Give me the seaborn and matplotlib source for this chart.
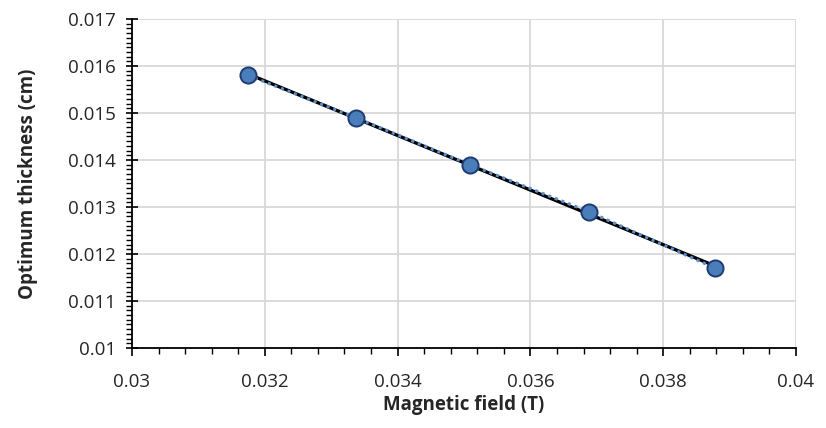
import matplotlib
matplotlib.use("Agg")
import matplotlib.pyplot as plt
import seaborn as sns
import pandas as pd
from matplotlib.ticker import FixedLocator, FixedFormatter, MultipleLocator

# Data
magnetic_field = [0.03175, 0.03337, 0.03509, 0.03688, 0.03878]
optimum_thickness = [0.0158, 0.0149, 0.0139, 0.0129, 0.0117]

x_ticks = [0.03, 0.032, 0.034, 0.036, 0.038, 0.04]
x_tick_labels = ["0.03", "0.032", "0.034", "0.036", "0.038", "0.04"]
y_ticks = [0.01, 0.011, 0.012, 0.013, 0.014, 0.015, 0.016, 0.017]
y_tick_labels = ["0.01", "0.011", "0.012", "0.013", "0.014", "0.015", "0.016", "0.017"]

df = pd.DataFrame({"B": magnetic_field, "t": optimum_thickness})

sns.set_style("white")
plt.rcParams["font.family"] = ["Open Sans", "DejaVu Sans"]

fig = plt.figure(figsize=(8.26, 4.28), dpi=100)
ax = fig.add_axes([0.1598, 0.187, 0.8039, 0.7686])

# Linear trendline (black)
sns.regplot(data=df, x="B", y="t", ax=ax, ci=None, scatter=False, truncate=True,
            line_kws=dict(color="black", lw=2.4, zorder=3))
# Series line (dotted blue)
sns.lineplot(data=df, x="B", y="t", ax=ax, color="#5B8FD0", lw=2.2,
             linestyle=(0, (1, 1.3)), zorder=4)
# Markers
sns.scatterplot(data=df, x="B", y="t", ax=ax, s=135, color="#4A7EBB",
                edgecolor="#1F3B73", linewidth=1.4, zorder=5)

ax.set_xlim(0.03, 0.04)
ax.set_ylim(0.01, 0.017)
ax.xaxis.set_major_locator(FixedLocator(x_ticks))
ax.xaxis.set_major_formatter(FixedFormatter(x_tick_labels))
ax.yaxis.set_major_locator(FixedLocator(y_ticks))
ax.yaxis.set_major_formatter(FixedFormatter(y_tick_labels))
ax.xaxis.set_minor_locator(MultipleLocator(0.0004))
ax.yaxis.set_minor_locator(MultipleLocator(0.0001))

ax.grid(True, which="major", color="#D9D9D9", lw=1.3)
ax.set_axisbelow(True)

for s in ["top", "right"]:
    ax.spines[s].set_visible(False)
for s in ["left", "bottom"]:
    ax.spines[s].set_color("black")
    ax.spines[s].set_linewidth(1.3)

ax.tick_params(axis="x", which="major", direction="out", length=6, width=1.2,
               colors="black", labelsize=13.5, pad=12, bottom=True)
ax.tick_params(axis="x", which="minor", direction="out", length=4, width=1.0,
               colors="black", bottom=True)
ax.tick_params(axis="y", which="major", direction="inout", length=9, width=1.2,
               colors="black", labelsize=13.5, pad=7, left=True)
ax.tick_params(axis="y", which="minor", direction="out", length=4, width=1.0,
               colors="black", left=True)
for lbl in ax.get_xticklabels() + ax.get_yticklabels():
    lbl.set_color("#262626")

ax.set_xlabel("Magnetic field (T)", fontsize=13.5, fontweight="bold", labelpad=3)
ax.set_ylabel("Optimum thickness (cm)", fontsize=13.5, fontweight="bold", labelpad=22)

fig.savefig("out.png", dpi=100)
